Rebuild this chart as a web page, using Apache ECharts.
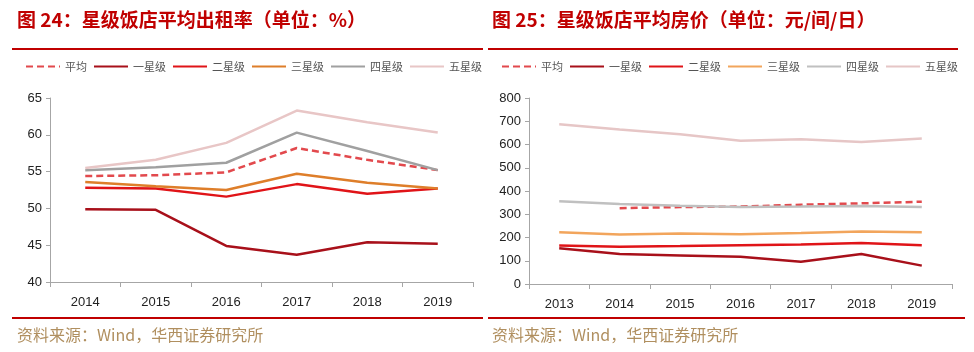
<!DOCTYPE html>
<html><head><meta charset="utf-8">
<script src="https://cdn.jsdelivr.net/npm/echarts@6/dist/echarts.min.js"></script>
<style>html,body{margin:0;padding:0;background:#fff}#c{width:974px;height:352px}</style>
</head><body><div id="c"></div>
<script>
// ---- data: chart 1 (occupancy rate, %) ----
const years1 = ['2014','2015','2016','2017','2018','2019'];
const occAvg   = [54.4, 54.5, 54.9, 58.2, 56.6, 55.2];
const occStar1 = [49.9, 49.8, 44.9, 43.7, 45.4, 45.2];
const occStar2 = [52.8, 52.7, 51.6, 53.3, 52.0, 52.7];
const occStar3 = [53.6, 53.0, 52.5, 54.7, 53.5, 52.7];
const occStar4 = [55.2, 55.6, 56.2, 60.3, 57.8, 55.2];
const occStar5 = [55.5, 56.6, 58.9, 63.3, 61.7, 60.3];
// ---- data: chart 2 (average room price, yuan/room/day) ----
const years2 = ['2013','2014','2015','2016','2017','2018','2019'];
const priceAvg   = [null, 326, 331, 333, 341, 347, 354];
const priceStar1 = [154, 129, 123, 117, 96, 129, 79];
const priceStar2 = [166, 160, 163, 167, 170, 176, 167];
const priceStar3 = [223, 213, 217, 214, 219, 226, 223];
const priceStar4 = [356, 344, 337, 331, 333, 336, 331];
const priceStar5 = [687, 664, 644, 616, 623, 611, 626];
const names = ['平均','一星级','二星级','三星级','四星级','五星级'];
const names2 = ['平均 ','一星级 ','二星级 ','三星级 ','四星级 ','五星级 '];
const titles = ['图 24：星级饭店平均出租率（单位：%）','图 25：星级饭店平均房价（单位：元/间/日）'];
const source = '资料来源：Wind，华西证券研究所';

const colors1 = ['#E2494D','#A8101A','#E01418','#DE7E2A','#A0A0A0','#E8C6C6'];
const colors2 = ['#E2494D','#A8101A','#E01418','#F2A55C','#C0C0C0','#E6C6C6'];

const chart = echarts.init(document.getElementById('c'), null, {renderer:'canvas'});
const axisColor = '#A6A6A6';
function xAxis(grid, data){
  return {type:'category', gridIndex:grid, data:data, boundaryGap:true,
    axisLine:{lineStyle:{color:axisColor,width:1}},
    axisTick:{show:true, length:5, lineStyle:{color:axisColor}, inside:false},
    axisLabel:{color:'#222', fontSize:13, fontFamily:'Liberation Sans, Arial', margin:14},
    splitLine:{show:false}};
}
function yAxis(grid, min, max, interval){
  return {type:'value', gridIndex:grid, min:min, max:max, interval:interval,
    axisLine:{show:true, lineStyle:{color:axisColor,width:1}},
    axisTick:{show:true, length:4, lineStyle:{color:axisColor}},
    axisLabel:{color:'#222', fontSize:13, fontFamily:'Liberation Sans, Arial', margin:8},
    splitLine:{show:false}};
}
function mk(name, data, color, xi, yi, dashed){
  return {name:name, type:'line', data:data, xAxisIndex:xi, yAxisIndex:yi,
    symbol:'none', smooth:false, connectNulls:false, animation:false,
    lineStyle:{color:color, width:2.5, type: dashed ? [7,4] : 'solid'},
    itemStyle:{color:color}};
}
const s1 = [occAvg,occStar1,occStar2,occStar3,occStar4,occStar5];
const s2 = [priceAvg,priceStar1,priceStar2,priceStar3,priceStar4,priceStar5];
const series = [];
s1.forEach((d,i)=>series.push(mk(names[i], d, colors1[i], 0, 0, i===0)));
s2.forEach((d,i)=>series.push(mk(names2[i], d, colors2[i], 1, 1, i===0)));

const textFont = 'Noto Sans CJK SC';
function legend(left, data){
  return {left:left, top:56, width:475, itemWidth:34, itemHeight:12, itemGap:6, selectedMode:false,
    itemStyle:{opacity:0}, formatter: n => n.trim(),
    textStyle:{color:'#555', fontSize:11, fontFamily:textFont}, data:data};
}
chart.setOption({
  animation:false,
  title:[
    {text:titles[0], left:12, top:5, textStyle:{color:'#C00000', fontSize:19, fontWeight:'bold', fontFamily:textFont}},
    {text:titles[1], left:487, top:5, textStyle:{color:'#C00000', fontSize:19, fontWeight:'bold', fontFamily:textFont}},
    {text:source, left:12, top:322, textStyle:{color:'#B08F5F', fontSize:16, fontWeight:'normal', fontFamily:textFont}},
    {text:source, left:487, top:322, textStyle:{color:'#B08F5F', fontSize:16, fontWeight:'normal', fontFamily:textFont}}
  ],
  legend:[legend(20, names), legend(496, names2)],
  grid:[
    {left:50, top:98, width:423, height:184},
    {left:529, top:98, width:423, height:186}
  ],
  xAxis:[xAxis(0, years1), xAxis(1, years2)],
  yAxis:[yAxis(0, 40, 65, 5), yAxis(1, 0, 800, 100)],
  series: series,
  graphic:[
    {type:'rect', shape:{x:12, y:48, width:471, height:2}, style:{fill:'#C00000'}},
    {type:'rect', shape:{x:488, y:48, width:470, height:2}, style:{fill:'#C00000'}},
    {type:'rect', shape:{x:12, y:317, width:471, height:2}, style:{fill:'#C00000'}},
    {type:'rect', shape:{x:488, y:317, width:477, height:2}, style:{fill:'#C00000'}}
  ]
});
</script></body></html>
